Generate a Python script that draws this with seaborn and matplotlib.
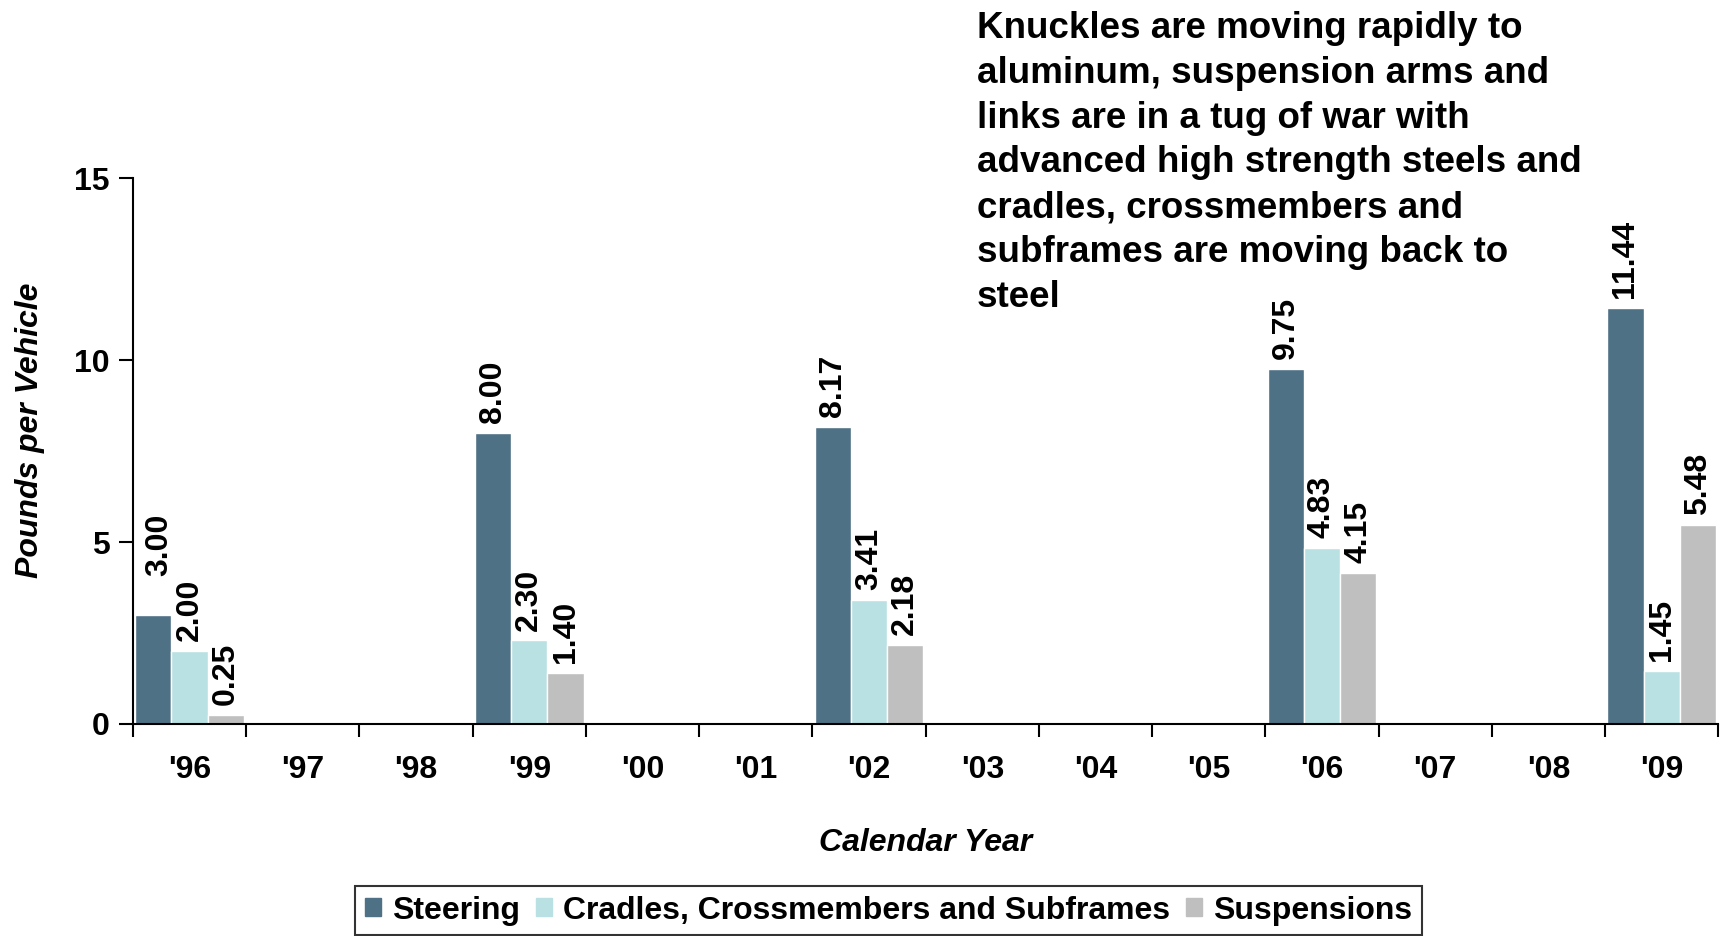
import numpy as np
import pandas as pd
import matplotlib
matplotlib.use("Agg")
import matplotlib.pyplot as plt
import seaborn as sns
from matplotlib.ticker import FixedLocator

# values (None = no bar that year)
years = ["'96", "'97", "'98", "'99", "'00", "'01", "'02", "'03",
         "'04", "'05", "'06", "'07", "'08", "'09"]
steering = [3.00, None, None, 8.00, None, None, 8.17, None,
            None, None, 9.75, None, None, 11.44]
cradles = [2.00, None, None, 2.30, None, None, 3.41, None,
           None, None, 4.83, None, None, 1.45]
suspensions = [0.25, None, None, 1.40, None, None, 2.18, None,
               None, None, 4.15, None, None, 5.48]
series_names = ["Steering", "Cradles, Crossmembers and Subframes", "Suspensions"]
colors = ["#4E7185", "#B9E0E3", "#BFBFBF"]
note_lines = ["Knuckles are moving rapidly to",
              "aluminum, suspension arms and",
              "links are in a tug of war with",
              "advanced high strength steels and",
              "cradles, crossmembers and",
              "subframes are moving back to",
              "steel"]


def build_frame():
    rows = []
    for name, vals in zip(series_names, [steering, cradles, suspensions]):
        for yr, v in zip(years, vals):
            if v is not None:
                rows.append({"year": yr, "series": name, "value": v})
    return pd.DataFrame(rows)


def main():
    sns.set_theme(style="white")
    plt.rcParams['font.family'] = ['Liberation Sans', 'DejaVu Sans']
    plt.rcParams['font.weight'] = 'bold'
    plt.rcParams['text.color'] = 'black'
    plt.rcParams['xtick.color'] = 'black'
    plt.rcParams['ytick.color'] = 'black'
    plt.rcParams['axes.labelcolor'] = 'black'

    df = build_frame()

    W, H = 1725, 936
    fig = plt.figure(figsize=(W / 100, H / 100), dpi=100)
    ax = fig.add_axes([0.0771, 0.2265, 0.919, 0.5833])

    sns.barplot(data=df, x="year", y="value", hue="series", order=years,
                hue_order=series_names, palette=colors, width=0.96,
                saturation=1, errorbar=None, ax=ax, legend=True)

    for i, cont in enumerate(ax.containers):
        labels = ax.bar_label(cont, fmt="%.2f", rotation=90, padding=7,
                              fontsize=23, fontweight="bold", color="black")
        # the first steering label sits higher in the original
        if i == 0 and labels:
            labels[0].xyann = (4, 28)

    ax.set_ylim(0, 15)
    ax.set_xlim(-0.5, len(years) - 0.5)
    ax.set_yticks([0, 5, 10, 15])
    ax.tick_params(axis="y", labelsize=23, length=10, width=1.5,
                   direction="out", left=True, pad=7)
    ax.xaxis.set_minor_locator(FixedLocator(np.arange(-0.5, len(years), 1.0)))
    ax.tick_params(axis="x", which="major", length=0, labelsize=23, pad=22)
    ax.tick_params(axis="x", which="minor", length=9, width=1.5,
                   direction="out", bottom=True)
    for lab in ax.get_xticklabels() + ax.get_yticklabels():
        lab.set_fontweight("bold")

    sns.despine(ax=ax)
    for s in ["left", "bottom"]:
        ax.spines[s].set_color("black")
        ax.spines[s].set_linewidth(1.5)

    ax.set_xlabel("Calendar Year", fontsize=23, fontweight="bold",
                  fontstyle="italic", labelpad=31)
    ax.set_ylabel("Pounds per Vehicle", fontsize=23, fontweight="bold",
                  fontstyle="italic")
    ax.yaxis.set_label_coords(-0.0558, 0.538)

    ax.get_legend().remove()
    handles = [plt.Rectangle((0, 0), 1, 1, color=c) for c in colors]
    leg = fig.legend(handles, series_names, loc="upper center",
                     bbox_to_anchor=(0.515, 0.0534), ncol=3, fontsize=23,
                     frameon=True, fancybox=False, edgecolor="black",
                     handlelength=0.5, handleheight=0.5,
                     handletextpad=0.35, columnspacing=0.5, borderpad=0.3,
                     borderaxespad=0)
    leg.get_frame().set_linewidth(1.5)
    for t in leg.get_texts():
        t.set_fontweight("bold")

    # annotation, one line at a time
    for i, line in enumerate(note_lines):
        y_px = 38 + i * 44.8
        fig.text(977 / W, 1 - y_px / H, line, ha="left", va="baseline",
                 fontsize=26.5, fontweight="bold")

    fig.savefig("out.png", dpi=100)


if __name__ == "__main__":
    main()
